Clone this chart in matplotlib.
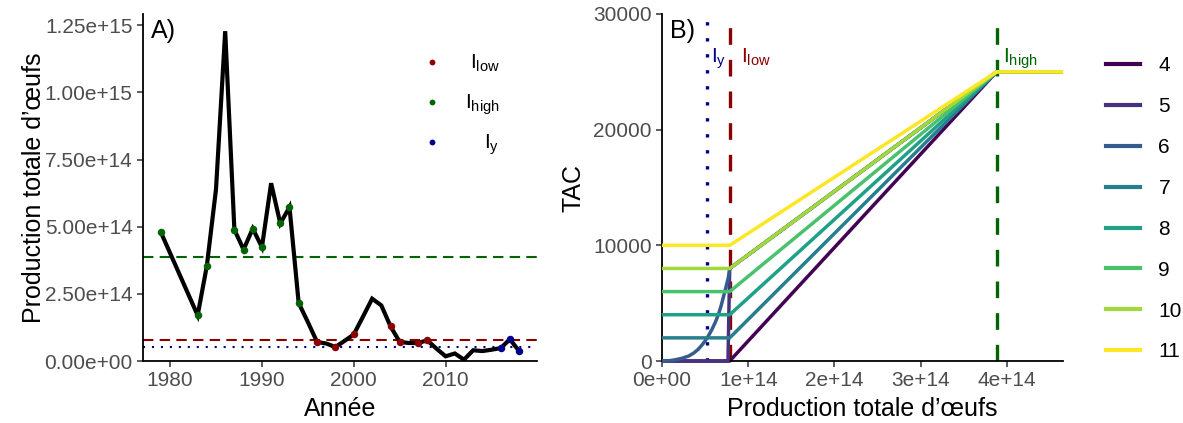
import matplotlib
matplotlib.use("Agg")
import matplotlib.pyplot as plt
from matplotlib.lines import Line2D
from matplotlib.ticker import FixedLocator, FixedFormatter

plt.rcParams["font.family"] = ["Liberation Sans", "DejaVu Sans"]
plt.rcParams["mathtext.fontset"] = "custom"
plt.rcParams["mathtext.rm"] = "Liberation Sans"
plt.rcParams["mathtext.it"] = "Liberation Sans"

# ---- Panel A data: total egg production by year ----
years = [1979, 1983, 1984, 1985, 1986, 1987, 1988, 1989, 1990, 1991, 1992, 1993,
         1994, 1995, 1996, 1997, 1998, 1999, 2000, 2001, 2002, 2003, 2004, 2005,
         2006, 2007, 2008, 2009, 2010, 2011, 2012, 2013, 2014, 2015, 2016, 2017, 2018]
eggs = [4.79e14, 1.70e14, 3.54e14, 6.40e14, 1.228e15, 4.89e14, 4.15e14, 4.93e14,
        4.24e14, 6.62e14, 5.12e14, 5.73e14, 2.16e14, 1.45e14, 0.71e14, 0.65e14,
        0.52e14, 0.75e14, 0.99e14, 1.65e14, 2.32e14, 2.07e14, 1.29e14, 0.71e14,
        0.67e14, 0.67e14, 0.77e14, 0.46e14, 0.175e14, 0.28e14, 0.05e14, 0.40e14,
        0.37e14, 0.42e14, 0.48e14, 0.81e14, 0.37e14]

# years flagged by each index
low_years = [1996, 1998, 2000, 2004, 2005, 2007, 2008]
high_years = [1979, 1983, 1984, 1987, 1988, 1989, 1990, 1992, 1993, 1994]
y_years = [2016, 2017, 2018]

# reference points
I_low = 0.785e14
I_high = 3.88e14
I_y = 0.525e14

col_low = "#8B0000"
col_high = "#006400"
col_y = "#00008B"

a_yticks = [0, 2.5e14, 5.0e14, 7.5e14, 1.0e15, 1.25e15]
a_yticklabels = ["0.00e+00", "2.50e+14", "5.00e+14", "7.50e+14", "1.00e+15", "1.25e+15"]
a_xticks = [1980, 1990, 2000, 2010]

# ---- Panel B data: harvest control rule per scenario ----
scenarios = ["4", "5", "6", "7", "8", "9", "10", "11"]
tac_floor = [0, 0, 0, 2000, 4000, 6000, 8000, 10000]
tac_cap = 25000
x_max = 4.65e14
# scenario 5: jump just before I_low
s5_x = [0, 0.765e14]
s5_tac = [0, 0]
s5_top = 8000
# scenario 6: gradual rise below I_low
s6_x = [0, 0.08e14, 0.15e14, 0.23e14, 0.31e14, 0.37e14, 0.42e14, 0.46e14, 0.50e14,
        0.54e14, 0.58e14, 0.62e14, 0.655e14, 0.685e14, 0.71e14, 0.73e14, 0.75e14, 0.77e14]
s6_tac = [0, 20, 100, 230, 430, 700, 1010, 1350, 1730, 2200, 2740, 3380, 4040, 4760,
          5480, 6050, 6630, 7250]
s6_top = 8000

viridis8 = ["#440154", "#46337E", "#365C8D", "#277F8E", "#1FA187", "#4AC16D",
            "#9FDA3A", "#FDE725"]

b_xticks = [0, 1e14, 2e14, 3e14, 4e14]
b_xticklabels = ["0e+00", "1e+14", "2e+14", "3e+14", "4e+14"]
b_yticks = [0, 10000, 20000, 30000]

tick_col = "#4D4D4D"
fs_tick = 15
fs_title = 18

fig = plt.figure(figsize=(11.83, 4.23), dpi=100)
axA = fig.add_axes([143 / 1183, 62 / 423, 394 / 1183, 347 / 423])
axB = fig.add_axes([662 / 1183, 62 / 423, 401 / 1183, 347 / 423])


def style(ax):
    for s in ("top", "right"):
        ax.spines[s].set_visible(False)
    for s in ("left", "bottom"):
        ax.spines[s].set_linewidth(1.3)
        ax.spines[s].set_color("black")
    ax.tick_params(axis="both", which="major", length=4.5, width=1.1, color="#333333",
                   labelcolor=tick_col, labelsize=fs_tick, pad=3)


# ---- Panel A ----
style(axA)
axA.axhline(I_high, color=col_high, lw=1.5, ls=(0, (5, 3)), zorder=1)
axA.axhline(I_low, color=col_low, lw=1.5, ls=(0, (5, 3)), zorder=1)
axA.axhline(I_y, color=col_y, lw=1.5, ls=(0, (1, 3.3)), zorder=1)
axA.plot(years, eggs, color="black", lw=3.0, zorder=2, solid_joinstyle="miter")

lookup = dict(zip(years, eggs))
for yrs, c in ((high_years, col_high), (low_years, col_low), (y_years, col_y)):
    axA.plot(yrs, [lookup[v] for v in yrs], "o", color=c, ms=5.4, mec="none", zorder=3)

axA.set_xlim(1977.05, 2019.95)
axA.set_ylim(0, 1.292e15)
axA.xaxis.set_major_locator(FixedLocator(a_xticks))
axA.yaxis.set_major_locator(FixedLocator(a_yticks))
axA.yaxis.set_major_formatter(FixedFormatter(a_yticklabels))
axA.set_xlabel("Année", fontsize=fs_title, labelpad=5)
axA.set_ylabel("Production totale d\u2019œufs", fontsize=fs_title)
axA.yaxis.set_label_coords(-0.245, 0.5)
axA.text(0.02, 0.985, "A)", transform=axA.transAxes, fontsize=fs_title, va="top", ha="left")

# inline key
key_labels = [r"$\mathregular{I_{low}}$", r"$\mathregular{I_{high}}$", r"$\mathregular{I_{y}}$"]
key_cols = [col_low, col_high, col_y]
key_rows = [0.862, 0.746, 0.632]
for lab, c, yy in zip(key_labels, key_cols, key_rows):
    axA.plot([0.733], [yy], "o", color=c, ms=4.2, mec="none", transform=axA.transAxes,
             clip_on=False)
    axA.text(0.905, yy - 0.019, lab, transform=axA.transAxes, fontsize=fs_tick,
             ha="right", va="baseline", color="black")

# ---- Panel B ----
style(axB)
axB.axvline(I_y, color=col_y, lw=2.4, ls=(0, (1, 3.8)), zorder=1)
axB.axvline(I_low, color=col_low, lw=2.4, ls=(0, (5, 4.5)), zorder=1)
axB.axvline(I_high, color=col_high, lw=2.4, ls=(0, (5, 4.5)), zorder=1)

handles = []
for i, (name, floor, c) in enumerate(zip(scenarios, tac_floor, viridis8)):
    if name == "5":
        xs = s5_x + [I_low, I_high, x_max]
        ys = s5_tac + [s5_top, tac_cap, tac_cap]
    elif name == "6":
        xs = s6_x + [I_low, I_high, x_max]
        ys = s6_tac + [s6_top, tac_cap, tac_cap]
    else:
        xs = [0, I_low, I_high, x_max]
        ys = [floor, floor, tac_cap, tac_cap]
    axB.plot(xs, ys, color=c, lw=2.5, zorder=2 + i, solid_joinstyle="round",
             solid_capstyle="butt", clip_on=False)
    handles.append(Line2D([], [], color=c, lw=3.0))

axB.set_xlim(0, x_max)
axB.set_ylim(0, 30000)
axB.xaxis.set_major_locator(FixedLocator(b_xticks))
axB.xaxis.set_major_formatter(FixedFormatter(b_xticklabels))
axB.yaxis.set_major_locator(FixedLocator(b_yticks))
axB.set_xlabel("Production totale d\u2019œufs", fontsize=fs_title, labelpad=5)
axB.set_ylabel("TAC", fontsize=fs_title)
axB.yaxis.set_label_coords(-0.19, 0.5)
axB.text(0.02, 0.985, "B)", transform=axB.transAxes, fontsize=fs_title, va="top", ha="left")

label_y = 25800
axB.text(I_y + 0.045e14, label_y, r"$\mathregular{I_{y}}$", color=col_y, fontsize=fs_tick,
         ha="left", va="baseline", zorder=20)
axB.text(I_low + 0.13e14, label_y, r"$\mathregular{I_{low}}$", color=col_low, fontsize=fs_tick,
         ha="left", va="baseline", zorder=20)
axB.text(I_high + 0.07e14, label_y, r"$\mathregular{I_{high}}$", color=col_high,
         fontsize=fs_tick, ha="left", va="baseline", zorder=20)

fig.legend(handles, scenarios, loc="upper left", bbox_to_anchor=(1098 / 1183, 1 - 48 / 423),
           frameon=False, fontsize=fs_tick, handlelength=1.6, handletextpad=0.9,
           labelspacing=1.05, borderaxespad=0)

fig.savefig("out.png", dpi=100)
